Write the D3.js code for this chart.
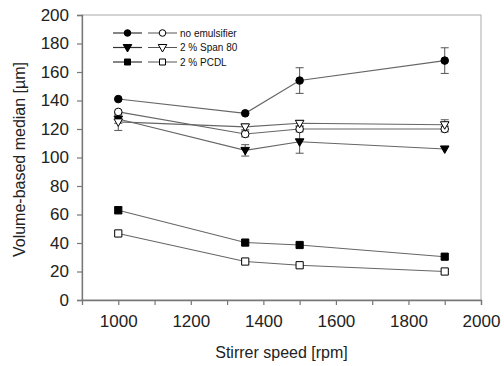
<!DOCTYPE html>
<html>
<head>
<meta charset="utf-8">
<script src="https://cdn.jsdelivr.net/npm/d3@7"></script>
<style>
  body { margin: 0; background: #fff; }
  text { font-family: Arial, "Liberation Sans", sans-serif; }
</style>
</head>
<body>
<div id="chart"></div>
<script>
// data
var speeds = [1000, 1350, 1500, 1900]
var seriesNames = ['no emulsifier', '2 % Span 80', '2 % PCDL']

var noEmulsFilled = [141, 131, 154, 168]
var noEmulsFilledErr = [1, 1, 9, 9]
var noEmulsOpen = [132, 116.5, 120, 120]
var noEmulsOpenErr = [1.5, 2, 2, 2]
var spanFilled = [127, 105, 111, 106]
var spanFilledErr = [3, 4, 8, 1]
var spanOpen = [125, 121.5, 124, 123]
var spanOpenErr = [6, 2, 2, 3.5]
var pcdlFilled = [63, 40.3, 38.6, 30.4]
var pcdlFilledErr = [2.5, 1, 1, 1]
var pcdlOpen = [46.7, 27, 24.4, 20]
var pcdlOpenErr = [1, 1, 1, 1]

var xTicks = [1000, 1200, 1400, 1600, 1800, 2000]
var xMinor = [1000, 1100, 1200, 1300, 1400, 1500, 1600, 1700, 1800, 1900, 2000]
var yTicks = [0, 20, 40, 60, 80, 100, 120, 140, 160, 180, 200]

var series = [
  {vals: noEmulsFilled, err: noEmulsFilledErr, shape: 'circle', fill: '#000'},
  {vals: noEmulsOpen, err: noEmulsOpenErr, shape: 'circle', fill: '#fff'},
  {vals: spanFilled, err: spanFilledErr, shape: 'tri', fill: '#000'},
  {vals: spanOpen, err: spanOpenErr, shape: 'tri', fill: '#fff'},
  {vals: pcdlFilled, err: pcdlFilledErr, shape: 'square', fill: '#000'},
  {vals: pcdlOpen, err: pcdlOpenErr, shape: 'square', fill: '#fff'}
]

var W = 504, H = 366
var margin = {left: 82, top: 15, right: 23, bottom: 66}

var svg = d3.select('#chart').append('svg')
  .attr('width', W).attr('height', H)

var x = d3.scaleLinear().domain([900, 2000]).range([margin.left, W - margin.right])
var y = d3.scaleLinear().domain([0, 200]).range([H - margin.bottom, margin.top])

// frame (top/right light)
svg.append('rect')
  .attr('x', x(900)).attr('y', y(200))
  .attr('width', x(2000) - x(900)).attr('height', y(0) - y(200))
  .attr('fill', 'none').attr('stroke', '#aaa').attr('stroke-width', 1)

// axes
var xAxis = svg.append('g')
  .attr('transform', 'translate(0,' + y(0) + ')')
  .call(d3.axisBottom(x).tickValues(xMinor).tickSize(5).tickFormat(function(d) {
    return xTicks.indexOf(d) > -1 ? d : ''
  }))
var yAxis = svg.append('g')
  .attr('transform', 'translate(' + x(900) + ',0)')
  .call(d3.axisLeft(y).tickValues(yTicks).tickSize(5))

;[xAxis, yAxis].forEach(function(a) {
  a.select('.domain').attr('stroke', '#777').attr('stroke-width', 1.3)
  a.selectAll('.tick line').attr('stroke', '#777').attr('stroke-width', 1.2)
  a.selectAll('.tick text').attr('fill', '#222').style('font-size', '17px')
    .style('font-family', 'Arial, "Liberation Sans", sans-serif')
})
xAxis.selectAll('.tick text').attr('dy', '1.1em')
yAxis.selectAll('.tick text').attr('x', -13)

// axis titles
svg.append('text')
  .attr('x', (x(900) + x(2000)) / 2).attr('y', 358)
  .attr('text-anchor', 'middle').style('font-size', '16px').attr('fill', '#222')
  .text('Stirrer speed [rpm]')
svg.append('text')
  .attr('transform', 'translate(25,' + (y(100) + 2) + ') rotate(-90)')
  .attr('text-anchor', 'middle').style('font-size', '16px').attr('fill', '#222')
  .text('Volume-based median [µm]')

function drawMarker(g, shape, fill, cx, cy, s) {
  var path
  if (shape === 'circle') {
    g.append('circle').attr('cx', cx).attr('cy', cy).attr('r', s ? s : 3.8)
      .attr('fill', fill).attr('stroke', '#000').attr('stroke-width', 1)
    return
  }
  var r = s ? s : 3.6
  if (shape === 'square') {
    path = 'M' + (cx - r) + ',' + (cy - r) + 'h' + 2 * r + 'v' + 2 * r + 'h' + (-2 * r) + 'Z'
  } else {
    path = 'M' + (cx - 4.3) + ',' + (cy - 3) + 'L' + (cx + 4.3) + ',' + (cy - 3) + 'L' + cx + ',' + (cy + 4.5) + 'Z'
  }
  g.append('path').attr('d', path).attr('fill', fill).attr('stroke', '#000').attr('stroke-width', 1)
}

var line = d3.line()
  .x(function(d, i) { return x(speeds[i]) })
  .y(function(d) { return y(d) })

var plot = svg.append('g')
series.forEach(function(s) {
  plot.append('path').datum(s.vals).attr('d', line)
    .attr('fill', 'none').attr('stroke', '#666').attr('stroke-width', 1.1)
})
series.forEach(function(s) {
  s.vals.forEach(function(v, i) {
    var e = s.err[i]
    if (e > 1.5) {
      var cx = x(speeds[i])
      plot.append('line').attr('x1', cx).attr('x2', cx).attr('y1', y(v + e)).attr('y2', y(v - e))
        .attr('stroke', '#555').attr('stroke-width', 1)
      ;[v + e, v - e].forEach(function(t) {
        plot.append('line').attr('x1', cx - 4).attr('x2', cx + 4).attr('y1', y(t)).attr('y2', y(t))
          .attr('stroke', '#555').attr('stroke-width', 1)
      })
    }
  })
})
series.forEach(function(s) {
  s.vals.forEach(function(v, i) {
    drawMarker(plot, s.shape, s.fill, x(speeds[i]), y(v))
  })
})

// legend
var leg = svg.append('g')
seriesNames.forEach(function(name, i) {
  var ly = 33 + i * 14.5
  var filled = series[i * 2], open = series[i * 2 + 1]
  leg.append('line').attr('x1', 113).attr('x2', 142).attr('y1', ly).attr('y2', ly)
    .attr('stroke', '#333').attr('stroke-width', 1.2)
  drawMarker(leg, filled.shape, filled.fill, 127.5, ly, filled.shape === 'circle' ? 3.3 : 3)
  leg.append('line').attr('x1', 148).attr('x2', 177).attr('y1', ly).attr('y2', ly)
    .attr('stroke', '#555').attr('stroke-width', 1)
  drawMarker(leg, open.shape, open.fill, 162.5, ly, open.shape === 'circle' ? 3.3 : 3)
  leg.append('text').attr('x', 180).attr('y', ly + 3.5)
    .style('font-size', '10px').attr('fill', '#111').text(name)
})
</script>
</body>
</html>
